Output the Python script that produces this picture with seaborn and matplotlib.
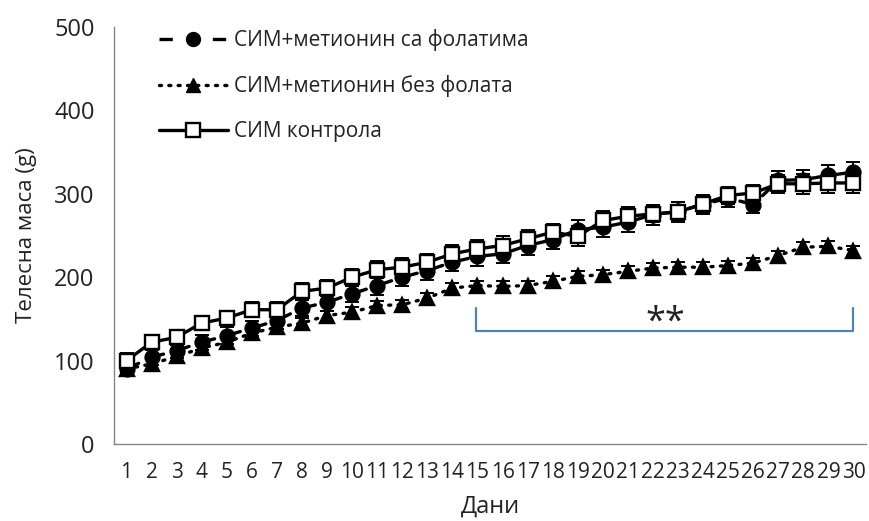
import matplotlib
matplotlib.use("Agg")
import matplotlib.pyplot as plt
import numpy as np
import pandas as pd
import seaborn as sns
from matplotlib.lines import Line2D

# дани
days = list(range(1, 31))

# СИМ контрола
control = [100, 122, 128, 145, 151, 161, 161, 183, 187, 200,
           209, 212, 218, 228, 234, 238, 246, 254, 249, 268,
           273, 276, 278, 288, 298, 301, 312, 312, 313, 313]
control_err = [9, 8, 9, 8, 9, 9, 9, 10, 10, 10,
               10, 11, 10, 11, 11, 11, 11, 10, 12, 11,
               11, 10, 12, 11, 10, 9, 11, 12, 12, 12]

# СИМ+метионин са фолатима
folate = [90, 104, 112, 122, 130, 139, 148, 163, 170, 180,
          190, 200, 208, 218, 225, 228, 238, 245, 257, 260,
          266, 275, 279, 287, 295, 287, 316, 317, 322, 326]
folate_err = [9, 9, 9, 9, 10, 9, 10, 10, 10, 10,
              11, 11, 11, 11, 11, 11, 11, 11, 12, 12,
              12, 12, 11, 11, 11, 10, 11, 12, 12, 12]

# СИМ+метионин без фолата
no_folate = [90, 96, 105, 115, 122, 133, 140, 145, 154, 158,
             166, 167, 175, 187, 190, 189, 190, 195, 201, 203,
             207, 211, 212, 212, 214, 217, 226, 236, 237, 232]
no_folate_err = [6, 6, 6, 6, 6, 6, 6, 6, 6, 6,
                 6, 6, 6, 6, 6, 6, 6, 6, 6, 6,
                 6, 6, 6, 6, 6, 6, 6, 6, 6, 6]

labels = ["СИМ+метионин са фолатима", "СИМ+метионин без фолата", "СИМ контрола"]

sns.set_style("white")
plt.rcParams["font.family"] = ["Open Sans", "DejaVu Sans"]
plt.rcParams["axes.unicode_minus"] = False

fig = plt.figure(figsize=(8.69, 5.21), dpi=100)
ax = fig.add_axes([114 / 869, 77 / 521, 752 / 869, 417 / 521])

series = [
    (no_folate, no_folate_err, "^", "black", (0, (0.6, 2.2)), 2),
    (folate, folate_err, "o", "black", (0, (4, 4)), 3),
    (control, control_err, "s", "white", "-", 4),
]

for vals, err, mk, face, ls, z in series:
    ax.errorbar(days, vals, yerr=err, fmt="none", ecolor="black",
                elinewidth=1.4, capsize=5, capthick=1.4, zorder=z)
    df = pd.DataFrame({"Дани": days, "маса": vals})
    sns.lineplot(data=df, x="Дани", y="маса", ax=ax, color="black",
                 linewidth=2.4, linestyle=ls, marker=mk, markersize=10,
                 markerfacecolor=face, markeredgecolor="black",
                 markeredgewidth=1.7, zorder=z + 0.5, dash_capstyle="round")

# заграда са значајношћу
bx = [14.94, 14.94, 29.98, 29.98]
by = [163, 135, 135, 163]
ax.plot(bx, by, color="#4F81BD", linewidth=1.6, zorder=1)
ax.text(22.5, 146, "**", ha="center", va="center", fontsize=26, color="#222222")

ax.set_xlim(0.5, 30.5)
ax.set_ylim(0, 500)
ax.set_yticks(range(0, 501, 100))
ax.set_xticks(days)
ax.set_xticklabels([str(d) for d in days])
ax.set_xticks(np.arange(0.5, 31, 1), minor=True)
ax.tick_params(axis="x", which="major", length=0, labelsize=15, pad=13, colors="#222222")
ax.tick_params(axis="x", which="minor", length=6, width=1, color="#868686", direction="out")
ax.tick_params(axis="y", which="major", length=6, width=1, color="#868686",
               direction="out", labelsize=17, labelcolor="#222222", pad=8)
for side in ["top", "right"]:
    ax.spines[side].set_visible(False)
for side in ["left", "bottom"]:
    ax.spines[side].set_color("#868686")
    ax.spines[side].set_linewidth(1)

ax.set_xlabel("Дани", fontsize=17, color="#222222", labelpad=8)
ax.set_ylabel("Телесна маса (g)", fontsize=16, color="#222222", labelpad=12)

handles = [
    Line2D([], [], color="black", linewidth=2.4, linestyle=(0, (4, 4)), marker="o",
           markersize=10, markerfacecolor="black"),
    Line2D([], [], color="black", linewidth=2.4, linestyle=(0, (0.6, 2.2)), marker="^",
           markersize=10, markerfacecolor="black", dash_capstyle="round"),
    Line2D([], [], color="black", linewidth=2.4, linestyle="-", marker="s",
           markersize=10, markerfacecolor="white", markeredgewidth=1.7),
]
leg = ax.legend(handles, labels, loc="upper left", bbox_to_anchor=(0.035, 1.04),
                frameon=False, fontsize=15, handlelength=3.3, handletextpad=0.3,
                labelspacing=1.15)
for t in leg.get_texts():
    t.set_color("#222222")

fig.savefig("out.png", dpi=100)
